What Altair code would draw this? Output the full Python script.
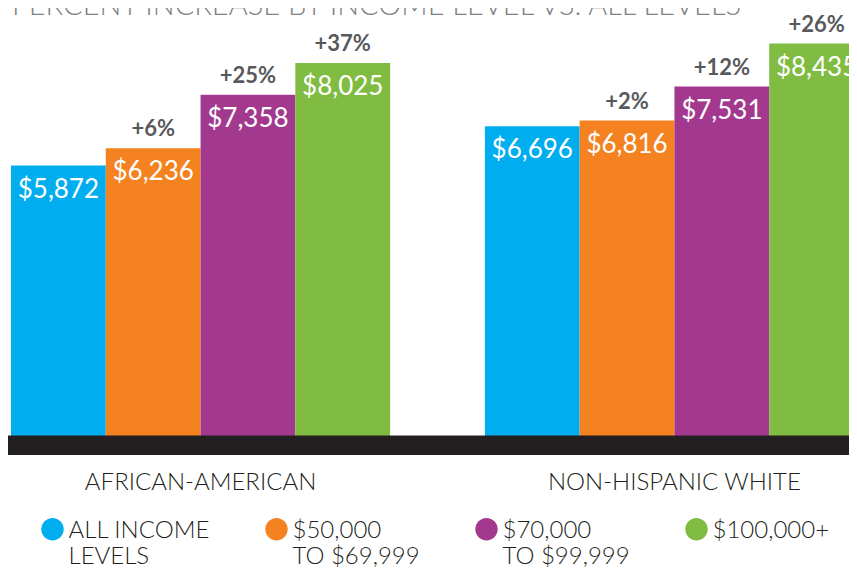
import altair as alt
import pandas as pd

title_text = "PERCENT INCREASE BY INCOME LEVEL VS. ALL LEVELS"
groups = ["AFRICAN-AMERICAN", "NON-HISPANIC WHITE"]
incomes = ["ALL INCOME|LEVELS", "$50,000|TO $69,999", "$70,000|TO $99,999", "$100,000+| "]
colors = ["#00AEEF", "#F58220", "#A3398F", "#80BC41"]
aa_values = [5872, 6236, 7358, 8025]
nhw_values = [6696, 6816, 7531, 8435]
aa_pct = ["", "+6%", "+25%", "+37%"]
nhw_pct = ["", "+2%", "+12%", "+26%"]

rows = []
for g, vals, pcts in [(groups[0], aa_values, aa_pct), (groups[1], nhw_values, nhw_pct)]:
    for inc, v, p in zip(incomes, vals, pcts):
        rows.append({"group": g, "income": inc, "value": v,
                     "label": "${:,}".format(v), "pct": p})
df = pd.DataFrame(rows)

FONT = "Lato"
circle_path = "M-1,-0.78 A1,1 0 1,1 1,-0.78 A1,1 0 1,1 -1,-0.78 Z"

x_enc = alt.X("group:N",
              scale=alt.Scale(domain=groups, range=[3, 856], paddingInner=0.2, paddingOuter=0),
              axis=alt.Axis(title=None, orient="bottom", ticks=False, domain=False,
                            labelAngle=0, labelFont=FONT, labelFontSize=24,
                            labelFontWeight=300, labelColor="#231F20",
                            labelPadding=25, labelLimit=400))
xo_enc = alt.XOffset("income:N", scale=alt.Scale(domain=incomes, paddingInner=0, paddingOuter=0))
y_enc = alt.Y("value:Q", scale=alt.Scale(domain=[0, 9181]), axis=None)

base = alt.Chart(df).encode(x=x_enc, xOffset=xo_enc, y=y_enc)

bars = base.mark_bar().encode(
    color=alt.Color("income:N", scale=alt.Scale(domain=incomes, range=colors),
                    legend=alt.Legend(orient="none", legendX=32.5, legendY=518,
                                      direction="horizontal", columns=4, title=None,
                                      symbolType=circle_path, symbolSize=500,
                                      symbolStrokeWidth=0, symbolOpacity=1,
                                      labelFont=FONT, labelFontSize=24,
                                      labelFontWeight=300, labelColor="#231F20",
                                      labelExpr="split(datum.label, '|')",
                                      labelBaseline="alphabetic", labelOffset=4,
                                      columnPadding=54, labelLimit=400, padding=0))
)

values = base.mark_text(baseline="middle", align="center", dy=24, font=FONT,
                        fontSize=26, color="white").encode(text="label:N")
pcts = base.mark_text(baseline="middle", align="center", dy=-19, font=FONT,
                      fontSize=22, fontWeight="bold", color="#58595B").encode(text="pct:N")

band = alt.Chart(pd.DataFrame({"b": [1]})).mark_rect(color="#231F20").encode(
    x=alt.value(-1), x2=alt.value(849), y=alt.value(427.5), y2=alt.value(447))

title = alt.Chart(pd.DataFrame({"t": [title_text]})).mark_text(
    align="left", baseline="alphabetic", font=FONT, fontSize=29, fontWeight=300,
    color="#808285").encode(text="t:N", x=alt.value(4), y=alt.value(7))

chart = alt.layer(bars, values, pcts, band, title).properties(
    width=841, height=437,
    autosize=alt.AutoSizeParams(type="none"),
    padding={"left": 0, "top": 0, "right": 0, "bottom": 123},
    background="white",
).configure_view(stroke=None)

chart.save("out.html", embed_options={"renderer": "svg", "actions": False})
